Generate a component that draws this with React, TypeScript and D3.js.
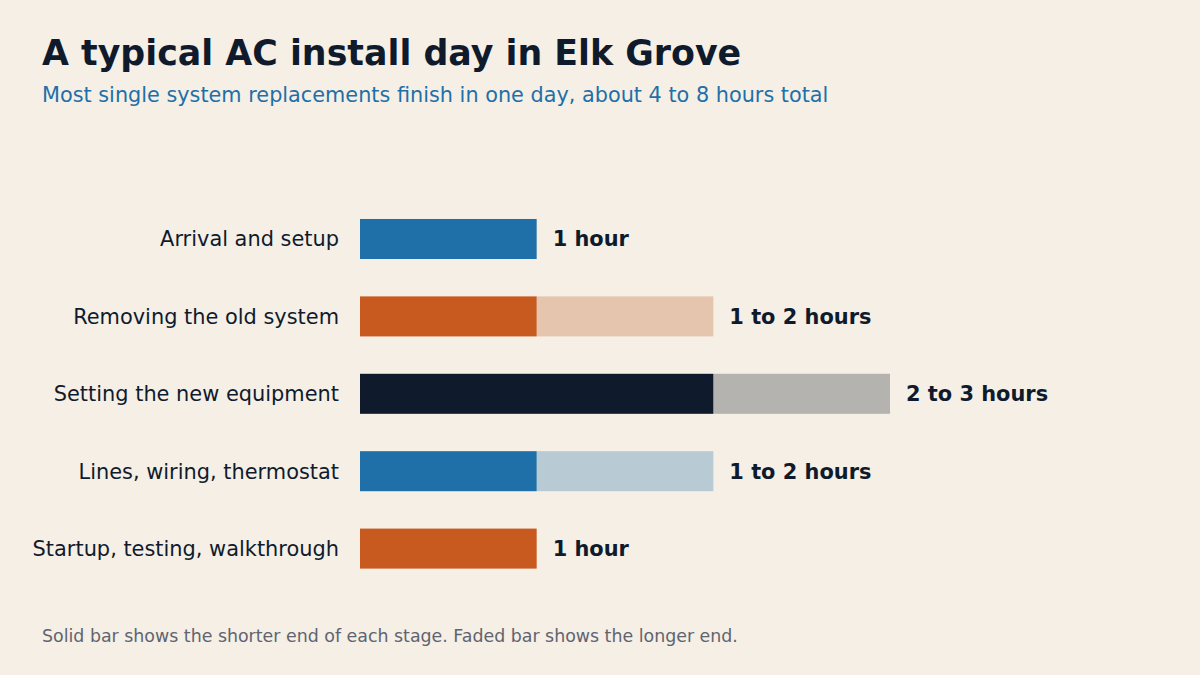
import React, { useEffect } from "react";
import * as d3 from "d3";

const stages = [
  "Arrival and setup",
  "Removing the old system",
  "Setting the new equipment",
  "Lines, wiring, thermostat",
  "Startup, testing, walkthrough",
];
const minHours = [1, 1, 2, 1, 1];
const maxHours = [1, 2, 3, 2, 1];
const valueLabels = ["1 hour", "1 to 2 hours", "2 to 3 hours", "1 to 2 hours", "1 hour"];
const solidColors = ["#1f70a8", "#c85a20", "#0f1b2d", "#1f70a8", "#c85a20"];
const fadedColors = ["#b8cbd5", "#e6c5ae", "#b5b3b0", "#b8cbd5", "#e6c5ae"];

const W = 1200;
const H = 675;
const FONT = "'DejaVu Sans', sans-serif";
const INK = "#0f1b2d";

export default function App() {
  useEffect(() => {
    document.body.style.margin = "0";
  }, []);

  const x = d3.scaleLinear().domain([0, 4]).range([360, 360 + 4 * 176.67]);
  const y = d3
    .scaleBand<string>()
    .domain(stages)
    .range([200.3, 587.3])
    .paddingInner(0.483)
    .paddingOuter(0.2415);
  const bw = y.bandwidth();

  return (
    <svg width={W} height={H} style={{ display: "block", background: "#f5efe6" }} fontFamily={FONT}>
      <rect x={0} y={0} width={W} height={H} fill="#f5efe6" />
      <text x={42} y={65} fontSize={34.8} fontWeight="bold" fill={INK}>
        A typical AC install day in Elk Grove
      </text>
      <text x={42} y={102} fontSize={20.8} fill="#1f6fa8">
        Most single system replacements finish in one day, about 4 to 8 hours total
      </text>
      {stages.map((s, i) => {
        const y0 = y(s) as number;
        const cy = y0 + bw / 2;
        return (
          <g key={s}>
            <text x={339} y={cy} dy="0.35em" textAnchor="end" fontSize={20.9} fill={INK}>
              {s}
            </text>
            {maxHours[i] > minHours[i] && (
              <rect
                x={x(minHours[i])}
                y={y0}
                width={x(maxHours[i]) - x(minHours[i])}
                height={bw}
                fill={fadedColors[i]}
              />
            )}
            <rect x={x(0)} y={y0} width={x(minHours[i]) - x(0)} height={bw} fill={solidColors[i]} />
            <text x={x(maxHours[i]) + 16} y={cy} dy="0.35em" fontSize={20.9} fontWeight="bold" fill={INK}>
              {valueLabels[i]}
            </text>
          </g>
        );
      })}
      <text x={42} y={642} fontSize={17.4} fill="#5f6470">
        Solid bar shows the shorter end of each stage. Faded bar shows the longer end.
      </text>
    </svg>
  );
}
